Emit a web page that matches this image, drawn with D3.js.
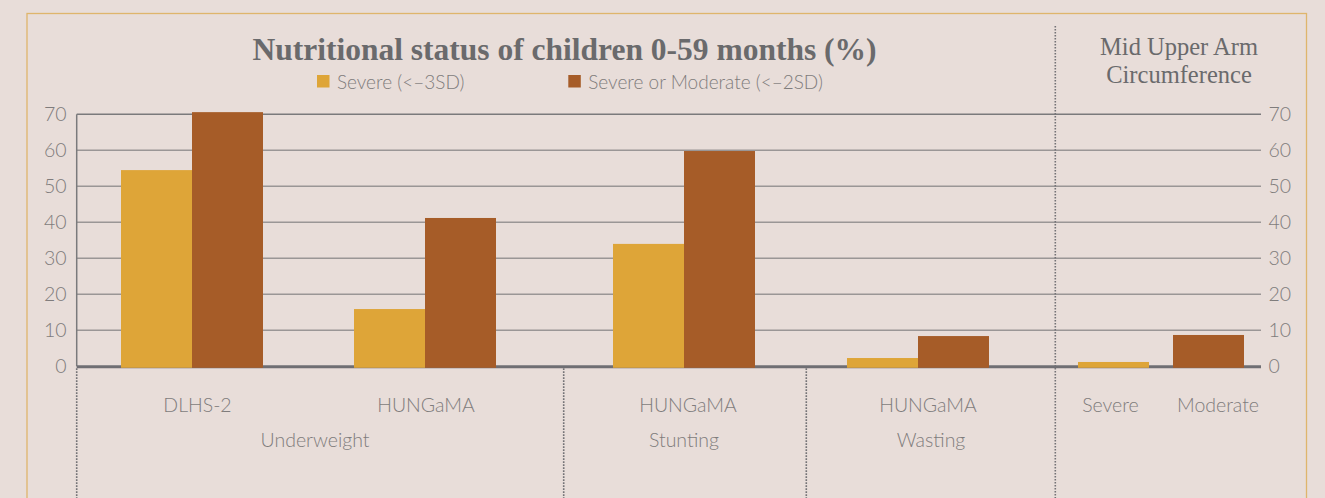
<!DOCTYPE html>
<html>
<head>
<meta charset="utf-8">
<script src="https://cdn.jsdelivr.net/npm/d3@7"></script>
<style>
  html, body { margin: 0; padding: 0; background: #e8ddd9; }
  svg { display: block; }
  .sans { font-family: "Lato", "Noto Sans", sans-serif; font-weight: 300; fill: #7f7c7c; }
  .serif { font-family: "Liberation Serif", "DejaVu Serif", serif; fill: #6a6a6c; }
</style>
</head>
<body>
<svg id="chart" width="1325" height="498"></svg>
<script>
// Survey groups along the x axis
const categories = ["DLHS-2", "HUNGaMA", "HUNGaMA", "HUNGaMA", "Severe", "Moderate"];
const indicators = ["Underweight", "Underweight", "Stunting", "Wasting", "MUAC", "MUAC"];
const sectionNames = ["Underweight", "Stunting", "Wasting"];

// Prevalence (%) by series
const severe = [54.5, 15.9, 34.0, 2.3, 1.2, null];
const severeOrModerate = [70.6, 41.2, 59.8, 8.4, null, 8.7];

const seriesNames = ["Severe (<\u20133SD)", "Severe or Moderate (<\u20132SD)"];
const yTicks = [0, 10, 20, 30, 40, 50, 60, 70];

// Layout
const W = 1325, H = 498;
const plotLeft = 76.7, plotRight = 1261;
const yTop = 114.3, yBottom = 366.3;
const slotCenters = [192, 425, 684, 918, 1113.5, 1208.5];
const labelShift = [5.5, 1, 4, 10, -3, 9.5];
const sectionShift = [6.5, 0, 13];
const dividers = [76.7, 563.7, 806.3, 1055.3];
const barW = 71;
const colors = ["#dea538", "#a65c28"];

const svg = d3.select("#chart");

const y = d3.scaleLinear().domain([0, 70]).range([yBottom, yTop]);
const x = d3.scaleOrdinal().domain(d3.range(categories.length)).range(slotCenters);
const inner = d3.scaleBand().domain([0, 1]).range([-barW, barW]);

// Outer frame
svg.append("rect")
  .attr("x", 27).attr("y", 13.5).attr("width", 1279.5).attr("height", 500)
  .attr("fill", "none").attr("stroke", "#dfb56c").attr("stroke-width", 1.3);

// Gridlines
svg.append("g").selectAll("line").data(yTicks.filter(t => t > 0)).join("line")
  .attr("x1", plotLeft).attr("x2", plotRight)
  .attr("y1", d => y(d)).attr("y2", d => y(d))
  .attr("stroke", d => d === 70 ? "#7a7a7c" : "#9a9696")
  .attr("stroke-width", 1.5);

// Left axis line
svg.append("line")
  .attr("x1", plotLeft).attr("x2", plotLeft)
  .attr("y1", y(70)).attr("y2", y(0))
  .attr("stroke", "#7a7a7c").attr("stroke-width", 1.5);

// Baseline
svg.append("line")
  .attr("x1", plotLeft).attr("x2", plotRight)
  .attr("y1", y(0) + 0.5).attr("y2", y(0) + 0.5)
  .attr("stroke", "#6f6e73").attr("stroke-width", 3);

// Dotted section dividers
svg.append("g").selectAll("line").data(dividers).join("line")
  .attr("x1", d => d).attr("x2", d => d)
  .attr("y1", (d, i) => i === dividers.length - 1 ? 26 : y(0) + 2)
  .attr("y2", H)
  .attr("stroke", "#737276").attr("stroke-width", 1.6)
  .attr("stroke-dasharray", "1.6,1.4");

// Bars
const seriesData = [severe, severeOrModerate];
const barData = [];
categories.forEach((c, i) => {
  const present = seriesData.map((s, k) => s[i] != null ? k : -1).filter(k => k >= 0);
  present.forEach(k => {
    const left = present.length === 1 ? x(i) - barW / 2 : x(i) + inner(k);
    barData.push({ i, k, v: seriesData[k][i], left });
  });
});
svg.append("g").selectAll("rect").data(barData).join("rect")
  .attr("x", d => d.left)
  .attr("width", barW)
  .attr("y", d => y(d.v))
  .attr("height", d => y(0) + 1.5 - y(d.v))
  .attr("fill", d => colors[d.k]);

// Y tick labels (both sides)
const yl = svg.append("g").attr("class", "sans").style("font-size", "19.5px");
yl.selectAll("text.l").data(yTicks).join("text").attr("class", "l")
  .attr("x", 66.5).attr("y", d => y(d) + 7)
  .attr("text-anchor", "end").text(d => d);
yl.selectAll("text.r").data(yTicks).join("text").attr("class", "r")
  .attr("x", 1268.5).attr("y", d => y(d) + 7)
  .attr("text-anchor", "start").text(d => d);

// Category labels
svg.append("g").attr("class", "sans").style("font-size", "19.5px")
  .selectAll("text").data(categories).join("text")
  .attr("x", (d, i) => x(i) + labelShift[i]).attr("y", 411.5)
  .attr("text-anchor", "middle").text(d => d);

// Indicator labels
svg.append("g").attr("class", "sans").style("font-size", "19.5px")
  .selectAll("text").data(sectionNames).join("text")
  .attr("x", (s, j) => d3.mean(d3.range(categories.length).filter(i => indicators[i] === s), i => x(i)) + sectionShift[j])
  .attr("y", 446.5)
  .attr("text-anchor", "middle").text(d => d);

// Title
svg.append("text").attr("class", "serif")
  .attr("x", 564.5).attr("y", 59.5)
  .attr("text-anchor", "middle")
  .style("font-size", "31.5px").style("font-weight", "bold")
  .text("Nutritional status of children 0-59 months (%)");

// MUAC heading
const mt = svg.append("text").attr("class", "serif")
  .attr("text-anchor", "middle").style("font-size", "24.5px");
mt.append("tspan").attr("x", 1179).attr("y", 55).text("Mid Upper Arm");
mt.append("tspan").attr("x", 1179).attr("y", 83).text("Circumference");

// Legend
const legendX = [317, 568.3];
const lg = svg.append("g").selectAll("g").data(seriesNames).join("g")
  .attr("transform", (d, i) => `translate(${legendX[i]},75)`);
lg.append("rect").attr("width", 12.5).attr("height", 12.5)
  .attr("fill", (d, i) => colors[i]);
lg.append("text").attr("class", "sans").style("font-size", "19px")
  .attr("x", 20).attr("y", 13.5).text(d => d);
</script>
</body>
</html>
